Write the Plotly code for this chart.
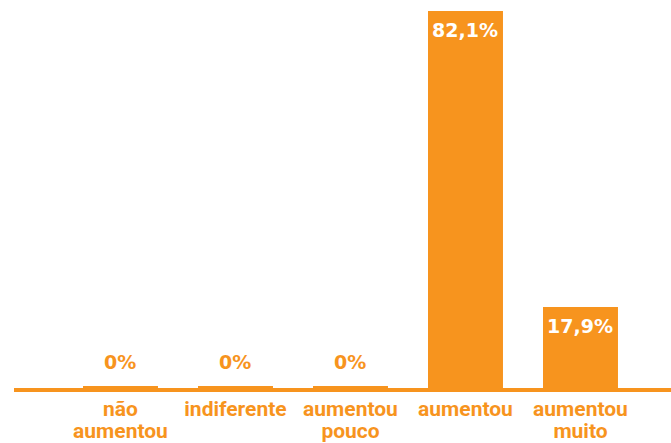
import plotly.graph_objects as go

categories = ["não<br>aumentou", "indiferente", "aumentou<br>pouco", "aumentou", "aumentou<br>muito"]
values = [0, 0, 0, 82.1, 17.9]
value_labels = ["0%", "0%", "0%", "82,1%", "17,9%"]

ORANGE = "#F7941E"
VAL_FONT = "DejaVu Sans"
CAT_FONT = "Roboto"

x = list(range(len(categories)))


def cat_text(s):
    return "<br>".join(f"<span style='font-size:21px'>{p}</span>" for p in s.split("<br>"))


fig = go.Figure()
fig.add_trace(go.Bar(
    x=x, y=values,
    marker=dict(color=ORANGE,
                line=dict(color=ORANGE, width=[7 if v == 0 else 0 for v in values])),
    width=0.652,
    hoverinfo="skip",
))

annotations = []
for xi, v, lab in zip(x, values, value_labels):
    if v > 5:
        annotations.append(dict(x=xi, y=v, text=lab, showarrow=False,
                                yanchor="top", yshift=-6,
                                font=dict(family=VAL_FONT, size=19, color="white", weight="bold")))
    else:
        annotations.append(dict(x=xi, y=v, text=lab, showarrow=False,
                                yanchor="bottom", yshift=15,
                                font=dict(family=VAL_FONT, size=19, color=ORANGE, weight="bold")))

fig.update_layout(
    width=671, height=443,
    margin=dict(l=14, r=0, t=11, b=51),
    paper_bgcolor="white", plot_bgcolor="white",
    showlegend=False,
    annotations=annotations,
    xaxis=dict(
        tickmode="array", tickvals=x, ticktext=[cat_text(c) for c in categories],
        range=[-0.926, 4.787], showgrid=False, zeroline=False, automargin=False,
        showline=False, ticks="", ticklabelstandoff=6,
        tickfont=dict(family=CAT_FONT, size=17, color=ORANGE, weight="bold"),
        fixedrange=True,
    ),
    yaxis=dict(
        range=[-0.54, 82.1], showgrid=False, showticklabels=False, automargin=False,
        zeroline=True, zerolinecolor=ORANGE, zerolinewidth=4,
        showline=False, ticks="", fixedrange=True,
    ),
)

fig.write_html(
    "out.html",
    config={"displayModeBar": False},
    post_script="document.body.style.margin='0';document.body.style.overflow='hidden';",
)
